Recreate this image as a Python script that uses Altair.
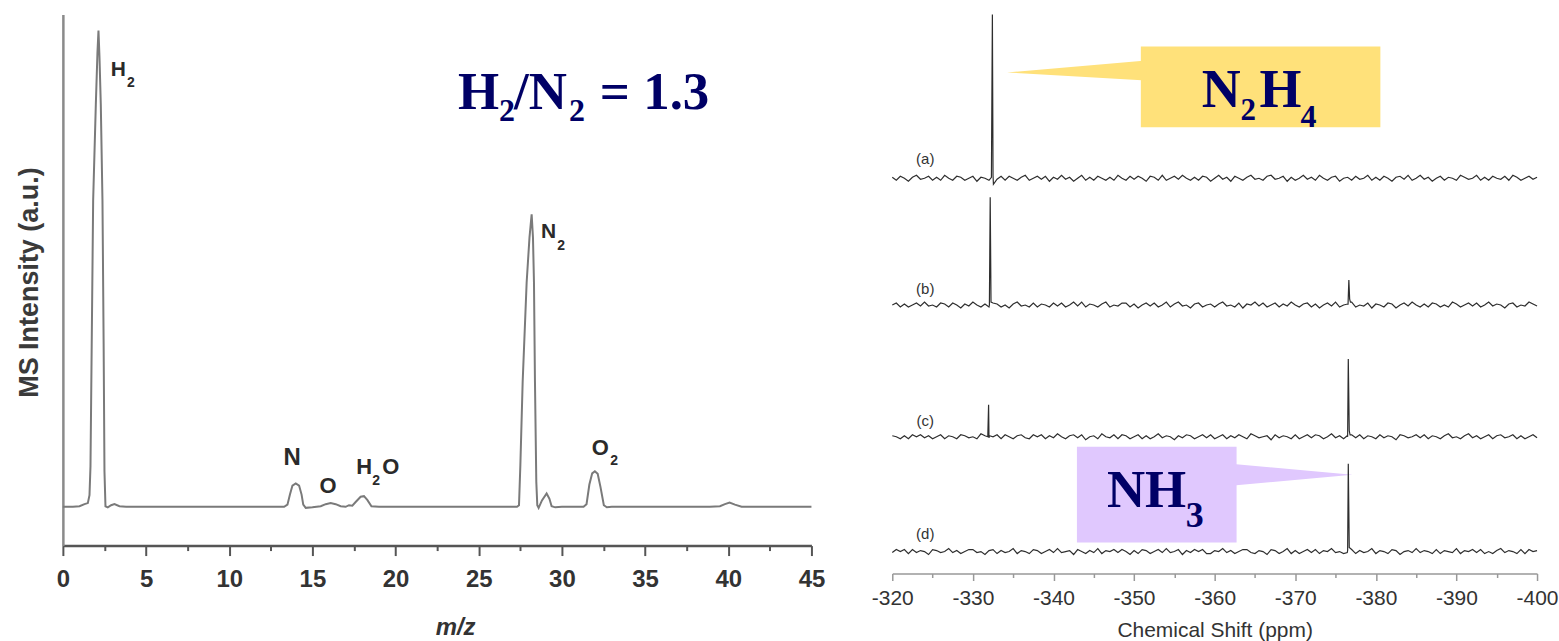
import altair as alt
import pandas as pd

# ---------------- Left panel: mass spectrum ----------------
mz = [0.0, 0.6, 1.0, 1.3, 1.5, 1.6, 1.66, 1.74, 1.82, 1.98, 2.08, 2.14, 2.2, 2.28, 2.38, 2.45, 2.5, 2.56,
      2.7, 2.9, 3.1, 3.4, 3.8,
      13.3, 13.5, 13.65, 13.8, 14.0, 14.2, 14.35, 14.45, 14.6, 15.0, 15.5, 15.8, 16.1, 16.4, 16.7, 17.0,
      17.2, 17.4, 17.6, 17.9, 18.1, 18.3, 18.55, 19.0,
      27.3, 27.42, 27.5, 27.64, 27.88, 28.05, 28.18, 28.26, 28.32, 28.38, 28.46, 28.52, 28.6, 28.8, 29.08,
      29.25, 29.38, 29.6, 30.0,
      31.3, 31.48, 31.65, 31.82, 31.98, 32.15, 32.32, 32.52, 32.7, 33.0,
      38.9, 39.5, 39.8, 40.08, 40.4, 40.8, 45.0]
intensity = [7.3, 7.3, 7.4, 7.8, 8.0, 9.5, 15, 40, 65, 83, 93, 97, 92, 83, 65, 38, 14, 7.4,
             7.2, 7.6, 7.8, 7.4, 7.3,
             7.3, 7.7, 9.6, 11.3, 11.7, 11.3, 9.6, 7.7, 7.1, 7.2, 7.4, 7.8, 8.0, 7.8, 7.4, 7.3,
             7.6, 7.5, 8.2, 9.2, 9.3, 8.6, 7.4, 7.3,
             7.3, 7.6, 15, 30.8, 49.6, 58, 62.4, 58, 49.6, 30.8, 12, 7.6, 7.1, 8.5, 9.8,
             8.8, 7.4, 7.2, 7.3,
             7.3, 7.8, 11.5, 13.6, 14.0, 13.5, 11.0, 7.6, 7.2, 7.3,
             7.3, 7.4, 7.8, 8.1, 7.7, 7.3, 7.3]

ms_label_text = ["H", "2", "N", "2", "N", "O", "H", "2", "O", "O", "2"]
ms_label_x = [2.88, 3.86, 28.74, 29.72, 13.26, 15.42, 17.64, 18.6, 19.2, 31.8, 32.9]
ms_label_y = [88.35, 86.28, 57.9, 55.6, 15.2, 9.96, 13.5, 11.47, 13.5, 17.1, 15.2]
ms_label_size = [21, 14, 21, 14, 24, 22, 22, 14, 22, 22, 14]

ratio_text = ["H", "2", "/N", "2", "= 1.3"]
ratio_x = [23.76, 26.22, 27.12, 30.42, 32.28]
ratio_y = [82.14, 79.89, 82.14, 79.89, 82.14]
ratio_size = [53, 32, 53, 32, 53]

ms_ticks = [0, 2.5, 5, 7.5, 10, 12.5, 15, 17.5, 20, 22.5, 25, 27.5, 30, 32.5, 35, 37.5, 40, 42.5, 45]

# ---------------- Right panel: NMR spectra ----------------
ppm_start = -320.0
ppm_step = -0.5
noise_a = [1, -2, 2, 0, -3, 1, 3, -1, 0, 2, -2, 1, -2, 3, 0, -2, 2, 1, -2, 0,
           2, -3, 1, 0, -2, 3, -1, 2, -2, 2, 0, -2, 1, 3, -2, 0, 2, -1, 2, -3,
           1, -1, 3, -1, 1, -3, 0, 3, -2, 1, -2, 2, 0, -2, 1, -2, 3, 0, -2, 2,
           -1, 2, 0, -3, 2, 1, -2, 3, -2, 0, 2, -1, 3, 0, -2, 1, -2, 2, 1, -3,
           0, 3, -1, 1, -3, 2, 0, -2, 1, 3, -1, 0, -2, 2, 3, -1, 0, 2, -3, 1,
           -2, 0, 3, -1, 1, -2, 3, 0, -2, 1, 2, -3, 0, 1, -2, 2, -1, 0, 3, -2,
           1, -2, 2, 0, -3, 1, 2, -1, 3, -2, 0, 3, -1, 1, -3, 0, 2, -2, 1, 0,
           -2, 3, 1, -1, 0, 3, -2, 1, -2, 2, 0, -1, 2, -2, 3, 1, -2, 0, 2, -1,
           1]
noise_b = [0, 2, -2, 1, -2, 0, 2, -1, 3, -1, 0, -2, 2, 1, -2, 2, 0, -3, 1, -1,
           3, 0, -2, 1, -2, 2, 1, -2, 0, -3, 1, 3, -1, 0, -2, 2, -2, 1, 0, -2,
           2, -1, 2, -2, 0, 3, -1, 3, -2, 1, 0, -2, 1, 3, -2, 0, -1, 2, 2, -2,
           1, -3, 0, 2, -1, 2, -2, 0, 3, -2, 1, 3, -1, 0, -3, 1, 2, -2, 0, 1,
           -2, 1, 3, -1, 0, -2, 2, -3, 1, 0, 3, -1, 2, -2, 0, 2, -2, 1, -1, 3,
           0, -2, 1, 2, -2, 1, -3, 0, 2, -1, 3, -2, 0, 1, 3, -2, 0, -1, 2, -3,
           1, 0, -2, 2, 1, -3, 0, 2, -1, 3, 0, -2, 1, -2, 2, 1, -2, 0, -2, 3,
           1, -2, 0, 2, -1, 2, -2, 0, 3, -1, 1, 0, -3, 1, 2, -2, 0, -1, 3, 1,
           -1]
noise_c = [1, 0, -2, 1, -2, 2, 0, 2, -1, 1, -2, 0, 2, -2, 1, 0, -2, 2, 1, -1,
           0, -2, 3, 1, -1, 0, 2, -2, 2, 0, -2, 1, 2, -1, -2, 2, 0, 2, -2, 1,
           -1, 3, 0, -2, 1, 2, -1, 2, -3, 0, 1, -2, 3, 0, -1, 2, -2, 2, 1, -2,
           0, 2, -2, 1, -2, 0, 3, -1, 1, 0, -3, 1, -1, 2, 1, -2, 0, 2, -1, 2,
           -2, 0, 2, -2, 1, -1, 2, 0, -2, 3, 1, -1, 0, 1, -3, 2, -1, 1, 0, -2,
           2, -2, 0, 2, -1, 2, 1, -2, 0, 3, -1, 1, -2, 0, 2, -1, 2, -2, 1, 0,
           -2, 2, -1, 1, 0, -3, 2, 1, -1, 0, 2, -1, 2, -2, 1, 0, -2, 1, 3, -1,
           0, -2, 1, 3, -1, 1, -2, 0, 2, -2, 1, 2, -1, 0, 2, -2, 1, -2, 0, 2,
           -1]
noise_d = [-1, 2, 0, 2, -2, 2, -1, 1, 0, -3, 2, 1, -1, 0, 3, -1, 1, -2, 0, 2,
           2, -1, 0, -3, 1, 2, -2, 1, -1, 0, 3, -2, 1, 0, -2, 2, 1, -2, 0, 2,
           -1, 3, -1, 0, 1, -3, 2, 0, -2, 1, -1, 3, -2, 1, 0, 2, -1, 2, 0, -3,
           1, -2, 2, 1, -2, 0, 2, -1, 3, -1, 0, 2, -3, 1, -1, 2, 0, 2, -2, -2,
           1, 0, 3, -1, 1, -2, 0, 2, 2, -1, -2, 1, 0, -3, 2, 1, -2, 0, 3, -2,
           1, -2, 0, 2, -1, 2, -2, 1, 0, 3, -1, 0, -2, 1, 2, -2, 1, -1, 0, 3,
           -2, 1, 0, -2, 2, 1, -3, 0, 1, -1, 3, -1, 1, 0, -2, 2, -2, 1, 0, -1,
           3, -2, 1, 0, 2, -1, 2, -2, 0, -2, 1, 3, -1, 1, 0, -2, 2, -2, 2, 0,
           1]

trace_names = ["a", "b", "c", "d"]
trace_offsets = [396, 269, 137, 22]
peak_ppm_a = [-332.3, -332.42, -332.55]
peak_val_a = [1, 164, -6]
peak_ppm_b = [-332.05, -332.15, -332.25, -376.55, -376.65, -376.75, -376.85]
peak_val_b = [0, 108, 3, 1, 25, 6, 3]
peak_ppm_c = [-331.85, -331.95, -332.05, -376.45, -376.58, -376.7, -376.8]
peak_val_c = [0, 32, 1, 1, 78, 6, 2]
peak_ppm_d = [-376.45, -376.58, -376.7]
peak_val_d = [-1, 88, 4]

tag_text = ["(a)", "(b)", "(c)", "(d)"]
tag_x = [-324.09, -324.09, -324.09, -324.09]
tag_y = [415, 285, 153, 40]

box_x = [-350.84, -342.91]
box_x2 = [-380.56, -362.72]
box_y = [528, 127]
box_y2 = [447, 31]
box_color = ["#FFE17A", "#E0C8FE"]

tri_id = ["n2h4", "n2h4", "nh3", "nh3"]
tri_x = [-334.24, -351.5, -362.0, -377.09]
tri_y = [502, 514, 110, 99]
tri_y2 = [502, 494, 88, 99]
tri_color = ["#FFE17A", "#FFE17A", "#E0C8FE", "#E0C8FE"]

formula_text = ["N", "2", "H", "4", "NH", "3"]
formula_x = [-358.39, -363.22, -365.57, -370.65, -346.63, -356.41]
formula_y = [467, 454, 467, 447, 67, 47]
formula_size = [54, 31, 54, 32, 53, 36]

nmr_ticks = [-320, -325, -330, -335, -340, -345, -350, -355, -360, -365, -370, -375, -380,
             -385, -390, -395, -400]

# ---------------- Build tables ----------------
ms_df = pd.DataFrame({"x": mz, "y": intensity})
ms_lab_df = pd.DataFrame({"x": ms_label_x, "y": ms_label_y, "t": ms_label_text, "s": ms_label_size})
ratio_df = pd.DataFrame({"x": ratio_x, "y": ratio_y, "t": ratio_text, "s": ratio_size})

noises = [noise_a, noise_b, noise_c, noise_d]
peaks = [(peak_ppm_a, peak_val_a), (peak_ppm_b, peak_val_b), (peak_ppm_c, peak_val_c), (peak_ppm_d, peak_val_d)]
rows = []
for name, off, nz, (pp, pv) in zip(trace_names, trace_offsets, noises, peaks):
    for i, v in enumerate(nz):
        rows.append({"x": ppm_start + i * ppm_step, "y": off + v, "trace": name})
    for p, v in zip(pp, pv):
        rows.append({"x": p, "y": off + v, "trace": name})
nmr_df = pd.DataFrame(rows)
tag_df = pd.DataFrame({"x": tag_x, "y": tag_y, "t": tag_text})
box_df = pd.DataFrame({"x": box_x, "x2": box_x2, "y": box_y, "y2": box_y2, "c": box_color})
tri_df = pd.DataFrame({"id": tri_id, "x": tri_x, "y": tri_y, "y2": tri_y2, "c": tri_color})
form_df = pd.DataFrame({"x": formula_x, "y": formula_y, "t": formula_text, "s": formula_size})

# ---------------- Axes / encodings ----------------
left_x_axis = alt.Axis(
    values=ms_ticks,
    labelExpr="datum.value % 5 === 0 ? format(datum.value, 'd') : ''",
    tickSize={"condition": {"test": "datum.value % 5 === 0", "value": 10}, "value": 5},
    tickColor="#555555", tickWidth=2, domainColor="#555555", domainWidth=2.5,
    labelFont="Liberation Sans", labelFontSize=24, labelFontWeight="bold", labelColor="#333333",
    labelBaseline="alphabetic", labelPadding=31, labelOverlap=False, labelFlush=False, grid=False,
    title="m/z", titleFont="Liberation Sans", titleFontSize=24, titleFontStyle="italic",
    titleFontWeight="bold", titleColor="#333333", titleX=393, titleY=89,
    titleBaseline="alphabetic", titleAlign="center",
)
left_y_axis = alt.Axis(
    ticks=False, labels=False, grid=False, domainColor="#8a8a8a", domainWidth=2.5,
    title="MS Intensity (a.u.)", titleFont="Liberation Sans", titleFontSize=27,
    titleFontWeight="bold", titleColor="#3a3a3a", titleX=-33, titleY=268, titleAngle=270,
    titleBaseline="middle", titleAlign="center",
)
right_x_axis = alt.Axis(
    values=nmr_ticks,
    labelExpr="datum.value % 10 === 0 ? '-' + format(-datum.value, 'd') : ''",
    tickSize={"condition": {"test": "datum.value % 10 === 0", "value": 7}, "value": 4},
    tickColor="#999999", tickWidth=1.5, domainColor="#999999", domainWidth=1.5,
    labelFont="Liberation Sans", labelFontSize=21, labelColor="#333333",
    labelBaseline="alphabetic", labelPadding=24, labelOverlap=False, labelFlush=False, grid=False,
    title="Chemical Shift (ppm)", titleFont="Liberation Sans", titleFontSize=21,
    titleFontWeight="normal", titleColor="#333333", titleY=63, titleBaseline="alphabetic",
)

LX = dict(scale=alt.Scale(domain=[0, 45], nice=False, zero=False), axis=left_x_axis)
LY = dict(scale=alt.Scale(domain=[0, 100], nice=False, zero=False), axis=left_y_axis)
RX = dict(scale=alt.Scale(domain=[-400, -320], reverse=True, nice=False, zero=False), axis=right_x_axis)
RY = dict(scale=alt.Scale(domain=[0, 560], nice=False, zero=False), axis=None)

ms_line = alt.Chart(ms_df).mark_line(color="#7a7a7a", strokeWidth=2).encode(
    x=alt.X("x:Q", **LX), y=alt.Y("y:Q", **LY))
ms_labels = alt.Chart(ms_lab_df).mark_text(
    font="Liberation Sans", fontWeight="bold", color="#2a2a2a", align="left", baseline="alphabetic"
).encode(x=alt.X("x:Q", **LX), y=alt.Y("y:Q", **LY), text="t:N", size=alt.Size("s:Q", scale=None))
ratio_labels = alt.Chart(ratio_df).mark_text(
    font="Liberation Serif", fontWeight="bold", color="#000066", align="left", baseline="alphabetic"
).encode(x=alt.X("x:Q", **LX), y=alt.Y("y:Q", **LY), text="t:N", size=alt.Size("s:Q", scale=None))

left = alt.layer(ms_line, ms_labels, ratio_labels).properties(width=750, height=532)

boxes = alt.Chart(box_df).mark_rect().encode(
    x=alt.X("x:Q", **RX), x2="x2:Q", y=alt.Y("y:Q", **RY), y2="y2:Q",
    color=alt.Color("c:N", scale=None))
tris = alt.Chart(tri_df).mark_area(opacity=1).encode(
    x=alt.X("x:Q", **RX), y=alt.Y("y:Q", **RY), y2="y2:Q",
    color=alt.Color("c:N", scale=None), detail="id:N")
traces = alt.Chart(nmr_df).mark_line(color="#2e2e2e", strokeWidth=1.2).encode(
    x=alt.X("x:Q", **RX), y=alt.Y("y:Q", **RY), detail="trace:N")
tags = alt.Chart(tag_df).mark_text(
    font="Liberation Sans", fontSize=15, color="#333333", align="center", baseline="middle"
).encode(x=alt.X("x:Q", **RX), y=alt.Y("y:Q", **RY), text="t:N")
formulas = alt.Chart(form_df).mark_text(
    font="Liberation Serif", fontWeight="bold", color="#000066", align="left", baseline="alphabetic"
).encode(x=alt.X("x:Q", **RX), y=alt.Y("y:Q", **RY), text="t:N", size=alt.Size("s:Q", scale=None))

right = alt.layer(boxes, tris, traces, tags, formulas).properties(width=646, height=560)

chart = alt.hconcat(left, right, spacing=81, bounds="flush").properties(
    padding={"left": 15, "top": 11, "right": 0, "bottom": 0}
).configure(background="white").configure_view(stroke=None)

chart.save("out.html", embed_options={"renderer": "svg", "actions": False})
